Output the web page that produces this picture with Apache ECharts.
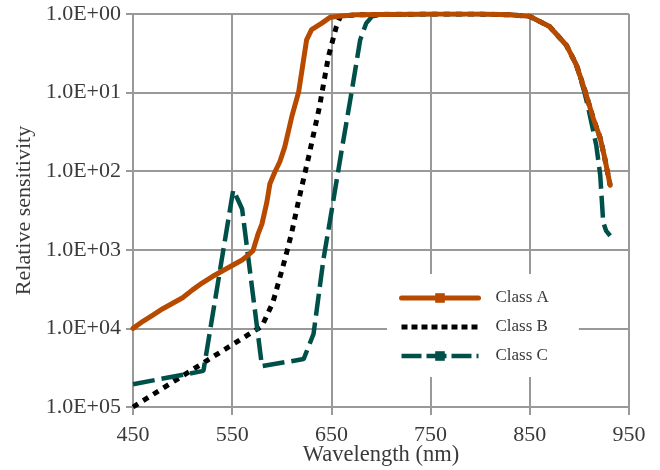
<!DOCTYPE html>
<html><head><meta charset="utf-8">
<script src="https://cdn.jsdelivr.net/npm/echarts@6/dist/echarts.min.js"></script>
<style>html,body{margin:0;padding:0;background:#fff}#c{width:660px;height:470px}</style>
</head><body><div id="c"></div>
<script>
const xTicks = [450, 550, 650, 750, 850, 950];
const yTickLabels = ['1.0E+00', '1.0E+01', '1.0E+02', '1.0E+03', '1.0E+04', '1.0E+05'];
const seriesNames = ['Class A', 'Class B', 'Class C'];

const classAWavelength = [450, 460, 470, 480, 490, 500, 510, 520, 530, 540, 550, 560, 566, 571, 576, 580, 585, 588, 593, 598, 603, 610, 617, 625, 630, 640, 649, 660, 675, 700, 750, 800, 830, 850, 870, 887, 897, 906, 914, 921, 925, 931];
const classASensitivity = [1.00e-4, 1.23e-4, 1.48e-4, 1.78e-4, 2.09e-4, 2.45e-4, 3.09e-4, 3.80e-4, 4.57e-4, 5.37e-4, 6.31e-4, 7.41e-4, 8.51e-4, 9.77e-4, 1.58e-3, 2.14e-3, 4.07e-3, 6.92e-3, 9.77e-3, 1.32e-2, 2.04e-2, 4.90e-2, 0.102, 0.468, 0.631, 0.759, 0.912, 0.944, 0.977, 0.989, 1.0, 1.0, 0.977, 0.933, 0.692, 0.398, 0.224, 0.102, 0.0468, 0.0263, 0.0158, 0.00661];

const classBWavelength = [450, 580, 591, 601, 605, 610, 617, 627, 638, 647, 655, 659, 675, 700, 750, 800, 830, 850, 870, 887, 897, 906, 914, 921, 925, 931];
const classBSensitivity = [1.0e-5, 1.07e-4, 2.14e-4, 6.03e-4, 9.33e-4, 1.66e-3, 4.27e-3, 1.51e-2, 6.61e-2, 0.288, 0.692, 0.933, 0.977, 0.989, 1.0, 1.0, 0.977, 0.933, 0.692, 0.398, 0.224, 0.102, 0.0468, 0.0263, 0.0158, 0.00661];

const classCWavelength = [450, 521, 551, 556, 560, 580, 622, 632, 642, 650, 660, 670, 679, 685, 691, 700, 750, 800, 830, 850, 870, 887, 897, 905, 909, 917, 921, 924, 927, 931];
const classCSensitivity = [1.95e-5, 2.88e-5, 5.75e-3, 4.27e-3, 3.31e-3, 3.31e-5, 4.07e-5, 8.51e-5, 7.59e-4, 3.02e-3, 1.74e-2, 9.55e-2, 0.468, 0.759, 0.933, 0.977, 1.0, 1.0, 0.977, 0.933, 0.692, 0.398, 0.224, 0.102, 0.0631, 0.0214, 8.91e-3, 2.24e-3, 1.74e-3, 1.51e-3];

const pairs = (xs, ys) => xs.map((x, i) => [x, ys[i]]);
const FONT = 'Liberation Serif';
const TXT = '#3a3a3a';
const GRID = '#999999';
const COLOR_A = '#B84A00', COLOR_B = '#000000', COLOR_C = '#00504A';

const chart = echarts.init(document.getElementById('c'), null, {renderer: 'canvas'});
chart.setOption({
  animation: false,
  backgroundColor: '#ffffff',
  grid: {left: 133, right: 31, top: 14, bottom: 63, containLabel: false, outerBoundsMode: 'none'},
  legend: {
    data: [
      {name: seriesNames[0], lineStyle: {width: 5}},
      {name: seriesNames[1], lineStyle: {width: 5, type: [6, 4]}, itemStyle: {color: 'rgba(0,0,0,0)', borderWidth: 0}},
      {name: seriesNames[2], lineStyle: {width: 4.5, type: [20, 5]}}
    ],
    orient: 'vertical',
    left: 387, top: 274,
    backgroundColor: '#ffffff',
    padding: [14, 30, 11, 12],
    itemWidth: 77, itemHeight: 12, itemGap: 9,
    textStyle: {fontFamily: FONT, fontSize: 17, color: TXT, lineHeight: 20, padding: [0, 0, 0, 12]},
    z: 10
  },
  xAxis: {
    type: 'value', min: 450, max: 950, interval: 100,
    name: 'Wavelength (nm)', nameLocation: 'middle', nameGap: 37, nameMoveOverlap: false,
    nameTextStyle: {fontFamily: FONT, fontSize: 22.5, color: TXT},
    axisLine: {show: true, lineStyle: {color: GRID, width: 2}},
    axisTick: {show: true, inside: false, length: 8, lineStyle: {color: GRID, width: 2}},
    axisLabel: {fontFamily: FONT, fontSize: 22, color: TXT, margin: 17,
      formatter: v => (xTicks.indexOf(v) >= 0 ? String(v) : '')},
    splitLine: {show: true, lineStyle: {color: GRID, width: 2}}
  },
  yAxis: {
    type: 'log', logBase: 10, min: 1e-5, max: 1,
    name: 'Relative sensitivity', nameLocation: 'middle', nameGap: 98, nameRotate: 90, nameMoveOverlap: false,
    nameTextStyle: {fontFamily: FONT, fontSize: 22, color: TXT},
    axisLine: {show: true, lineStyle: {color: GRID, width: 2}},
    axisTick: {show: true, inside: false, length: 7, lineStyle: {color: GRID, width: 2}},
    axisLabel: {fontFamily: FONT, fontSize: 22, color: TXT, margin: 12,
      formatter: v => yTickLabels[Math.round(-Math.log10(v))] || ''},
    splitLine: {show: true, lineStyle: {color: GRID, width: 2}}
  },
  series: [
    {
      name: seriesNames[0], type: 'line', z: 5,
      data: pairs(classAWavelength, classASensitivity),
      showSymbol: false, symbol: 'rect', symbolSize: 11,
      itemStyle: {color: COLOR_A},
      lineStyle: {color: COLOR_A, width: 5, cap: 'round', join: 'round'}
    },
    {
      name: seriesNames[1], type: 'line', z: 3,
      data: pairs(classBWavelength, classBSensitivity),
      showSymbol: false, symbol: 'none',
      itemStyle: {color: COLOR_B},
      lineStyle: {color: COLOR_B, width: 5, type: [6, 6], cap: 'butt'}
    },
    {
      name: seriesNames[2], type: 'line', z: 4,
      data: pairs(classCWavelength, classCSensitivity),
      showSymbol: false, symbol: 'rect', symbolSize: 11,
      itemStyle: {color: COLOR_C},
      lineStyle: {color: COLOR_C, width: 4.5, type: [22, 7], cap: 'butt'}
    }
  ]
});
</script>
</body></html>
